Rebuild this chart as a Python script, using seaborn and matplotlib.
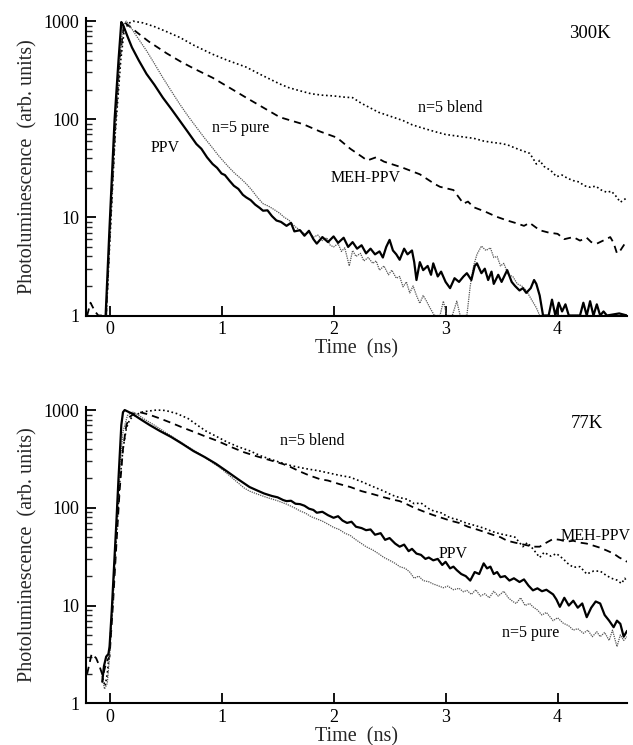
import numpy as np
import pandas as pd
import matplotlib
matplotlib.use("Agg")
import matplotlib.pyplot as plt
import matplotlib.ticker as mticker
import seaborn as sns

# ---------------- data: 300 K panel ----------------
top_ppv_t = [-0.035, 0.0, 0.045, 0.08, 0.105, 0.12, 0.16, 0.2, 0.26, 0.33, 0.40, 0.476, 0.55, 0.626, 0.70, 0.775,
             0.82, 0.87, 0.92, 0.96, 1.0, 1.03, 1.07, 1.11, 1.15, 1.19, 1.22, 1.26, 1.30, 1.34, 1.37, 1.41, 1.45,
             1.49, 1.53, 1.58, 1.62, 1.65, 1.70, 1.74, 1.78, 1.82, 1.85, 1.9, 1.95, 2.0, 2.04, 2.09, 2.13, 2.17,
             2.21, 2.25, 2.29, 2.33, 2.37, 2.41, 2.44, 2.47, 2.50, 2.53, 2.56, 2.59, 2.63, 2.66, 2.70, 2.72, 2.74,
             2.77, 2.80, 2.84, 2.87, 2.89, 2.93, 2.96, 3.0, 3.04, 3.08, 3.12, 3.16, 3.19, 3.23, 3.26, 3.28, 3.32,
             3.35, 3.38, 3.41, 3.43, 3.47, 3.50, 3.53, 3.55, 3.59, 3.62, 3.66, 3.69, 3.72, 3.76, 3.79, 3.81, 3.84,
             3.87, 3.92, 3.95, 3.98, 4.01, 4.04, 4.07, 4.10, 4.2, 4.23, 4.26, 4.29, 4.32, 4.35, 4.38, 4.41, 4.44,
             4.55, 4.62]
top_ppv_v = [1.0, 8, 100, 400, 980, 920, 700, 540, 400, 290, 225, 166, 128, 97, 74, 56,
             50, 41, 35, 32, 28, 27, 23.7, 21, 19.5, 17, 16, 15, 13.5, 12.5, 11.7, 11.8, 10.3,
             9.3, 9.0, 8.2, 8.8, 7.2, 7.4, 6.5, 7.3, 6.0, 5.4, 6.3, 5.6, 6.4, 5.5, 6.2, 5.0, 5.6,
             4.8, 5.2, 4.3, 4.8, 4.2, 4.5, 3.9, 5.0, 5.9, 4.6, 4.2, 3.7, 4.8, 4.2, 4.6, 3.5, 2.3,
             3.5, 2.9, 3.2, 2.6, 3.4, 2.5, 2.8, 2.2, 1.9, 2.4, 2.2, 2.5, 2.7, 2.3, 3.2, 3.4, 2.7,
             3.0, 2.3, 2.8, 2.1, 2.6, 2.2, 2.6, 2.9, 2.2, 2.0, 1.8, 1.9, 1.7, 1.9, 2.3, 2.1, 1.6,
             1.0, 1.0, 1.45, 1.0, 1.35, 1.1, 1.3, 1.0, 1.0, 1.35, 1.0, 1.4, 1.0, 1.3, 1.0, 1.1, 1.0,
             1.05, 1.0]

top_pure_t = [-0.03, 0.0, 0.05, 0.09, 0.12, 0.15, 0.18, 0.25, 0.33, 0.40, 0.476, 0.55, 0.626, 0.70, 0.775, 0.85,
              0.92, 0.97, 1.02, 1.07, 1.12, 1.17, 1.22, 1.27, 1.32, 1.37, 1.42, 1.47, 1.52, 1.56, 1.60, 1.63,
              1.66, 1.70, 1.74, 1.78, 1.82, 1.86, 1.90, 1.94, 1.97, 2.0, 2.04, 2.07, 2.10, 2.14, 2.17, 2.20,
              2.24, 2.27, 2.31, 2.35, 2.38, 2.41, 2.45, 2.49, 2.52, 2.56, 2.59, 2.62, 2.65, 2.68, 2.71, 2.74,
              2.77, 2.80, 2.83, 2.86, 2.90, 2.95, 2.98, 3.01, 3.06, 3.10, 3.13, 3.19, 3.22, 3.25, 3.28, 3.32,
              3.36, 3.40, 3.43, 3.46, 3.49, 3.52, 3.56, 3.60, 3.64, 3.68, 3.72, 3.76, 3.81, 3.84, 4.62]
top_pure_v = [1.0, 6, 80, 400, 900, 1000, 900, 680, 500, 370, 265, 195, 143, 108, 83, 64,
              51, 43, 37, 32, 28, 25, 22, 19, 16, 13.8, 13, 12, 11, 10, 9.4, 8.6,
              8, 7.4, 6.8, 7, 6.3, 6.6, 5.8, 6.2, 5.2, 5.0, 5.4, 4.5, 4.9, 3.2, 4.6, 4.0,
              4.3, 3.6, 3.9, 3.4, 3.6, 2.9, 3.2, 2.6, 2.9, 2.4, 2.5, 1.96, 2.2, 1.7, 2.0, 1.6,
              1.33, 1.6, 1.4, 1.2, 1.0, 1.0, 1.4, 1.0, 1.0, 1.4, 1.0, 1.0, 2.0, 3.2, 4.2, 5.1,
              4.6, 4.9, 3.9, 4.0, 3.2, 3.4, 2.6, 2.5, 2.1, 2.0, 1.8, 1.5, 1.2, 1.0, 1.0]

top_blend_t = [-0.03, 0.0, 0.05, 0.10, 0.13, 0.17, 0.21, 0.3, 0.4, 0.5, 0.63, 0.75, 0.92, 1.05, 1.22, 1.35,
               1.52, 1.6, 1.7, 1.8, 1.9, 2.0, 2.1, 2.17, 2.25, 2.32, 2.4, 2.5, 2.62, 2.7, 2.77, 2.85,
               2.92, 3.0, 3.08, 3.16, 3.25, 3.34, 3.42, 3.48, 3.55, 3.62, 3.68, 3.75, 3.78, 3.81, 3.84, 3.88,
               3.94, 3.99, 4.04, 4.09, 4.14, 4.19, 4.24, 4.29, 4.34, 4.39, 4.44, 4.48, 4.52, 4.56, 4.59, 4.62]
top_blend_v = [1.0, 5, 70, 400, 800, 950, 1000, 960, 880, 790, 680, 570, 460, 400, 340, 285,
               229, 210, 195, 182, 176, 173, 168, 166, 145, 132, 118, 108, 97, 88, 83, 78,
               74, 70, 68, 66, 64, 60, 58, 57, 55, 51, 48, 45, 40, 35, 38, 33,
               30, 26, 27, 25, 23.7, 23, 21, 20.3, 20.8, 19, 18, 18.5, 16.5, 14.3, 15, 16]

top_meh_t = [-0.2, -0.17, -0.13, -0.1, -0.03, 0.0, 0.05, 0.09, 0.13, 0.17, 0.25, 0.35, 0.51, 0.63, 0.75, 0.92,
             1.07, 1.22, 1.37, 1.52, 1.62, 1.73, 1.88, 2.03, 2.15, 2.26, 2.3, 2.38, 2.45, 2.55, 2.62, 2.77, 2.9,
             2.95, 3.07, 3.16, 3.2, 3.25, 3.35, 3.45, 3.55, 3.62, 3.7, 3.75, 3.84, 3.92, 4.0, 4.06, 4.14, 4.2,
             4.26, 4.3, 4.35, 4.42, 4.47, 4.50, 4.53, 4.56, 4.60, 4.62]
top_meh_v = [1.0, 1.35, 1.1, 1.0, 1.0, 6, 80, 400, 980, 900, 760, 620, 470, 390, 330, 265,
             210, 166, 132, 105, 97, 89, 75, 65, 50, 41, 38, 41, 37, 34, 32, 27.5, 22,
             20.5, 19, 13.8, 14.5, 12.7, 11.5, 10.2, 9.3, 8.8, 8.2, 8.8, 7.4, 7.0, 6.8, 6.0, 6.3, 5.8,
             6.2, 5.6, 5.4, 5.9, 6.3, 5.5, 4.3, 4.6, 5.4, 5.7]

# ---------------- data: 77 K panel ----------------
bot_ppv_t = [-0.065, -0.05, -0.03, -0.01, 0.0, 0.02, 0.04, 0.06, 0.08, 0.105, 0.12, 0.135, 0.2, 0.28, 0.36,
             0.45, 0.55, 0.655, 0.75, 0.85, 0.95, 1.05, 1.15, 1.25, 1.32, 1.38, 1.45, 1.5, 1.55, 1.58, 1.62,
             1.66, 1.70, 1.74, 1.78, 1.82, 1.85, 1.9, 1.95, 2.0, 2.04, 2.08, 2.12, 2.16, 2.2, 2.25, 2.29, 2.33,
             2.37, 2.42, 2.46, 2.5, 2.55, 2.59, 2.63, 2.67, 2.70, 2.74, 2.78, 2.82, 2.85, 2.89, 2.93, 2.97, 3.0,
             3.04, 3.07, 3.1, 3.14, 3.18, 3.22, 3.26, 3.30, 3.34, 3.37, 3.40, 3.43, 3.46, 3.49, 3.53, 3.57, 3.61,
             3.66, 3.70, 3.74, 3.78, 3.82, 3.86, 3.90, 3.96, 3.99, 4.02, 4.06, 4.10, 4.14, 4.18, 4.22, 4.26,
             4.30, 4.34, 4.38, 4.42, 4.46, 4.50, 4.53, 4.56, 4.59, 4.62]
bot_ppv_v = [1.66, 2.4, 3.0, 3.2, 3.8, 9, 25, 68, 200, 700, 950, 1000, 920, 800, 700,
             610, 530, 447, 380, 330, 282, 235, 195, 163, 150, 140, 132, 128, 120, 117, 118,
             110, 109, 105, 98, 95, 89, 91, 84, 79, 82, 74, 70, 72, 64, 62, 59, 60,
             53, 55, 47, 49, 43, 40, 42, 36, 38, 34, 33, 30, 31, 29, 30, 26, 28,
             24, 25, 23, 21, 20, 18, 22, 21, 27, 24, 25, 21, 22, 19.5, 20, 18, 19,
             17.4, 18.5, 16, 14.3, 15, 14, 14.5, 13, 11.5, 9.7, 12, 10, 11.2, 9.5, 10.5, 7.6,
             9.5, 11, 10.5, 8, 7, 6.0, 7, 6.5, 4.8, 5.5]

bot_pure_t = [-0.07, -0.045, -0.02, 0.0, 0.03, 0.06, 0.09, 0.12, 0.16, 0.20, 0.25, 0.3, 0.4, 0.5, 0.6, 0.7,
              0.8, 0.9, 1.0, 1.1, 1.2, 1.25, 1.32, 1.4, 1.5, 1.58, 1.65, 1.70, 1.75, 1.8, 1.85, 1.9, 1.95,
              2.0, 2.05, 2.1, 2.15, 2.2, 2.25, 2.29, 2.35, 2.4, 2.45, 2.5, 2.55, 2.59, 2.64, 2.68, 2.72, 2.76,
              2.80, 2.85, 2.89, 2.93, 2.98, 3.02, 3.07, 3.12, 3.16, 3.19, 3.23, 3.27, 3.31, 3.35, 3.39, 3.43,
              3.47, 3.52, 3.56, 3.60, 3.63, 3.67, 3.71, 3.75, 3.78, 3.82, 3.86, 3.90, 3.96, 4.0, 4.05, 4.10,
              4.14, 4.18, 4.23, 4.27, 4.31, 4.35, 4.38, 4.42, 4.46, 4.49, 4.53, 4.56, 4.59, 4.62]
bot_pure_v = [2.0, 1.4, 1.6, 3, 12, 60, 250, 600, 880, 960, 900, 820, 700, 590, 500, 420,
              360, 300, 250, 200, 160, 148, 138, 128, 118, 109, 100, 93, 88, 81, 77, 73, 68,
              63, 60, 55, 52, 47, 43, 40, 37, 34, 31, 29, 27, 25, 24, 22, 19, 20,
              18, 17.5, 16.6, 16, 15.2, 15.8, 14.5, 15, 13.8, 14.3, 13, 14.5, 12.5, 13.2, 12, 14,
              12.5, 14, 12, 11, 10.5, 12, 10, 10.5, 9.7, 9, 8, 8.5, 7, 7.5, 6.6, 6.2,
              5.6, 5.8, 5.2, 5.6, 4.8, 5.4, 4.8, 5.3, 4.4, 5.6, 3.8, 5.0, 4.4, 4.8]

bot_blend_t = [-0.06, -0.04, -0.02, 0.0, 0.03, 0.06, 0.09, 0.12, 0.15, 0.18, 0.22, 0.3, 0.42, 0.5, 0.6,
               0.7, 0.8, 0.86, 0.95, 1.05, 1.15, 1.25, 1.35, 1.45, 1.55, 1.62, 1.70, 1.78, 1.86, 1.95, 2.05,
               2.15, 2.25, 2.35, 2.45, 2.52, 2.59, 2.66, 2.72, 2.78, 2.85, 2.9, 2.95, 3.04, 3.1, 3.18, 3.26,
               3.34, 3.42, 3.49, 3.56, 3.62, 3.69, 3.73, 3.78, 3.84, 3.88, 3.94, 3.99, 4.05, 4.09, 4.14, 4.2,
               4.26, 4.32, 4.38, 4.43, 4.48, 4.53, 4.57, 4.60, 4.62]
bot_blend_v = [1.8, 1.5, 2.0, 3.5, 12, 50, 180, 400, 650, 800, 880, 960, 1000, 990, 920,
               820, 680, 610, 540, 470, 420, 383, 340, 310, 285, 270, 258, 248, 240, 228, 215,
               205, 185, 165, 148, 135, 127, 122, 110, 112, 98, 92, 90, 79, 76, 70, 66,
               62, 57, 54, 52, 50, 40, 44, 38, 31, 35, 32, 34, 30, 27, 24.6, 25,
               21, 22.5, 22.5, 20.5, 19, 18.2, 16.8, 19, 17.5]

bot_meh_t = [-0.2, -0.16, -0.12, -0.09, -0.06, -0.03, 0.0, 0.03, 0.06, 0.09, 0.12, 0.15, 0.18, 0.22, 0.27,
             0.35, 0.45, 0.55, 0.655, 0.75, 0.85, 0.95, 1.10, 1.2, 1.3, 1.42, 1.55, 1.62, 1.70, 1.78, 1.88,
             1.95, 2.05, 2.15, 2.25, 2.35, 2.45, 2.52, 2.59, 2.66, 2.72, 2.80, 2.88, 2.95, 3.04, 3.12, 3.2,
             3.28, 3.36, 3.42, 3.49, 3.55, 3.62, 3.7, 3.78, 3.84, 3.9, 3.96, 4.02, 4.08, 4.14, 4.2, 4.26,
             4.32, 4.38, 4.44, 4.5, 4.55, 4.6, 4.62]
bot_meh_v = [2.0, 3.2, 2.9, 2.4, 1.9, 2.6, 3.0, 10, 40, 150, 400, 700, 850, 920, 950,
             900, 820, 740, 660, 600, 540, 490, 412, 370, 340, 310, 280, 260, 235, 215, 196,
             190, 175, 163, 148, 138, 128, 122, 117, 108, 100, 92, 85, 80, 74, 70, 64,
             60, 56, 53, 50, 46, 44, 42, 40, 40, 44, 48, 47, 45, 46, 44, 43,
             41, 39, 36.5, 34, 31, 29, 28]

labels_top = ["300K", "n=5 blend", "MEH-PPV", "n=5 pure", "PPV"]
labels_bot = ["77K", "n=5 blend", "MEH-PPV", "PPV", "n=5 pure"]

# ---------------- styling ----------------
sns.set_theme(style="ticks")
plt.rcParams["font.family"] = ["Liberation Serif", "DejaVu Serif"]

styles = {
    "PPV": dict(color="black", linewidth=1.6, linestyle="-"),
    "n=5 pure": dict(color="#555555", linewidth=0.9, linestyle=(0, (1, 0.8))),
    "n=5 blend": dict(color="black", linewidth=1.2, linestyle=(0, (1, 1.6))),
    "MEH-PPV": dict(color="black", linewidth=1.3, linestyle=(0, (4, 2.8))),
}

fig = plt.figure(figsize=(6.33, 7.45), dpi=100)
ax_top = fig.add_axes([0.1359, 0.5765, 0.8547, 0.3995])
ax_bot = fig.add_axes([0.1359, 0.0560, 0.8547, 0.3980])

def draw(ax, series):
    for name, t, v in series:
        df = pd.DataFrame({"t": t, "v": v})
        sns.lineplot(data=df, x="t", y="v", ax=ax, estimator=None, sort=False,
                     legend=False, **styles[name])
    ax.set_yscale("log")
    ax.set_xlim(-0.21, 4.62)
    ax.set_ylim(1, 1080)
    ax.set_xticks([0, 1, 2, 3, 4])
    ax.set_xticklabels(["0", "1", "2", "3", "4"])
    ax.yaxis.set_major_locator(mticker.FixedLocator([1, 10, 100, 1000]))
    ax.yaxis.set_major_formatter(mticker.FixedFormatter(["1", "10", "100", "1000"]))
    ax.yaxis.set_minor_locator(mticker.LogLocator(base=10, subs=np.arange(2, 10)))
    ax.yaxis.set_minor_formatter(mticker.NullFormatter())
    ax.tick_params(axis="both", which="major", direction="in", length=7, width=1.3,
                   labelsize=13, pad=5, colors="black")
    ax.tick_params(axis="x", which="major", pad=4)
    ax.tick_params(axis="y", which="minor", direction="in", length=4, width=1.0)
    ax.tick_params(axis="x", which="minor", bottom=False)
    sns.despine(ax=ax)
    for s in ["left", "bottom"]:
        ax.spines[s].set_linewidth(1.5)
        ax.spines[s].set_color("black")
    ax.set_xlabel("Time  (ns)", fontsize=14.5, labelpad=1)
    ax.set_ylabel("Photoluminescence  (arb. units)", fontsize=14.5, labelpad=4)
    ax.set_facecolor("white")

draw(ax_top, [("n=5 blend", top_blend_t, top_blend_v),
              ("MEH-PPV", top_meh_t, top_meh_v),
              ("n=5 pure", top_pure_t, top_pure_v),
              ("PPV", top_ppv_t, top_ppv_v)])
draw(ax_bot, [("n=5 blend", bot_blend_t, bot_blend_v),
              ("MEH-PPV", bot_meh_t, bot_meh_v),
              ("n=5 pure", bot_pure_t, bot_pure_v),
              ("PPV", bot_ppv_t, bot_ppv_v)])

# annotations (positions in data coordinates)
top_pos = [(4.29, 740, 13.5), (3.04, 131, 11.5), (2.29, 25.5, 11.5), (1.17, 82, 11.5), (0.50, 51, 11.5)]
for lab, (x, y, fs) in zip(labels_top, top_pos):
    ax_top.text(x, y, lab, ha="center", va="center", fontsize=fs, color="black")
bot_pos = [(4.26, 736, 13.5), (1.81, 483, 11.5), (4.34, 52, 11.5), (3.07, 34, 11.5), (3.76, 5.2, 11.5)]
for lab, (x, y, fs) in zip(labels_bot, bot_pos):
    ax_bot.text(x, y, lab, ha="center", va="center", fontsize=fs, color="black")

fig.savefig("out.png", dpi=100, facecolor="white")
